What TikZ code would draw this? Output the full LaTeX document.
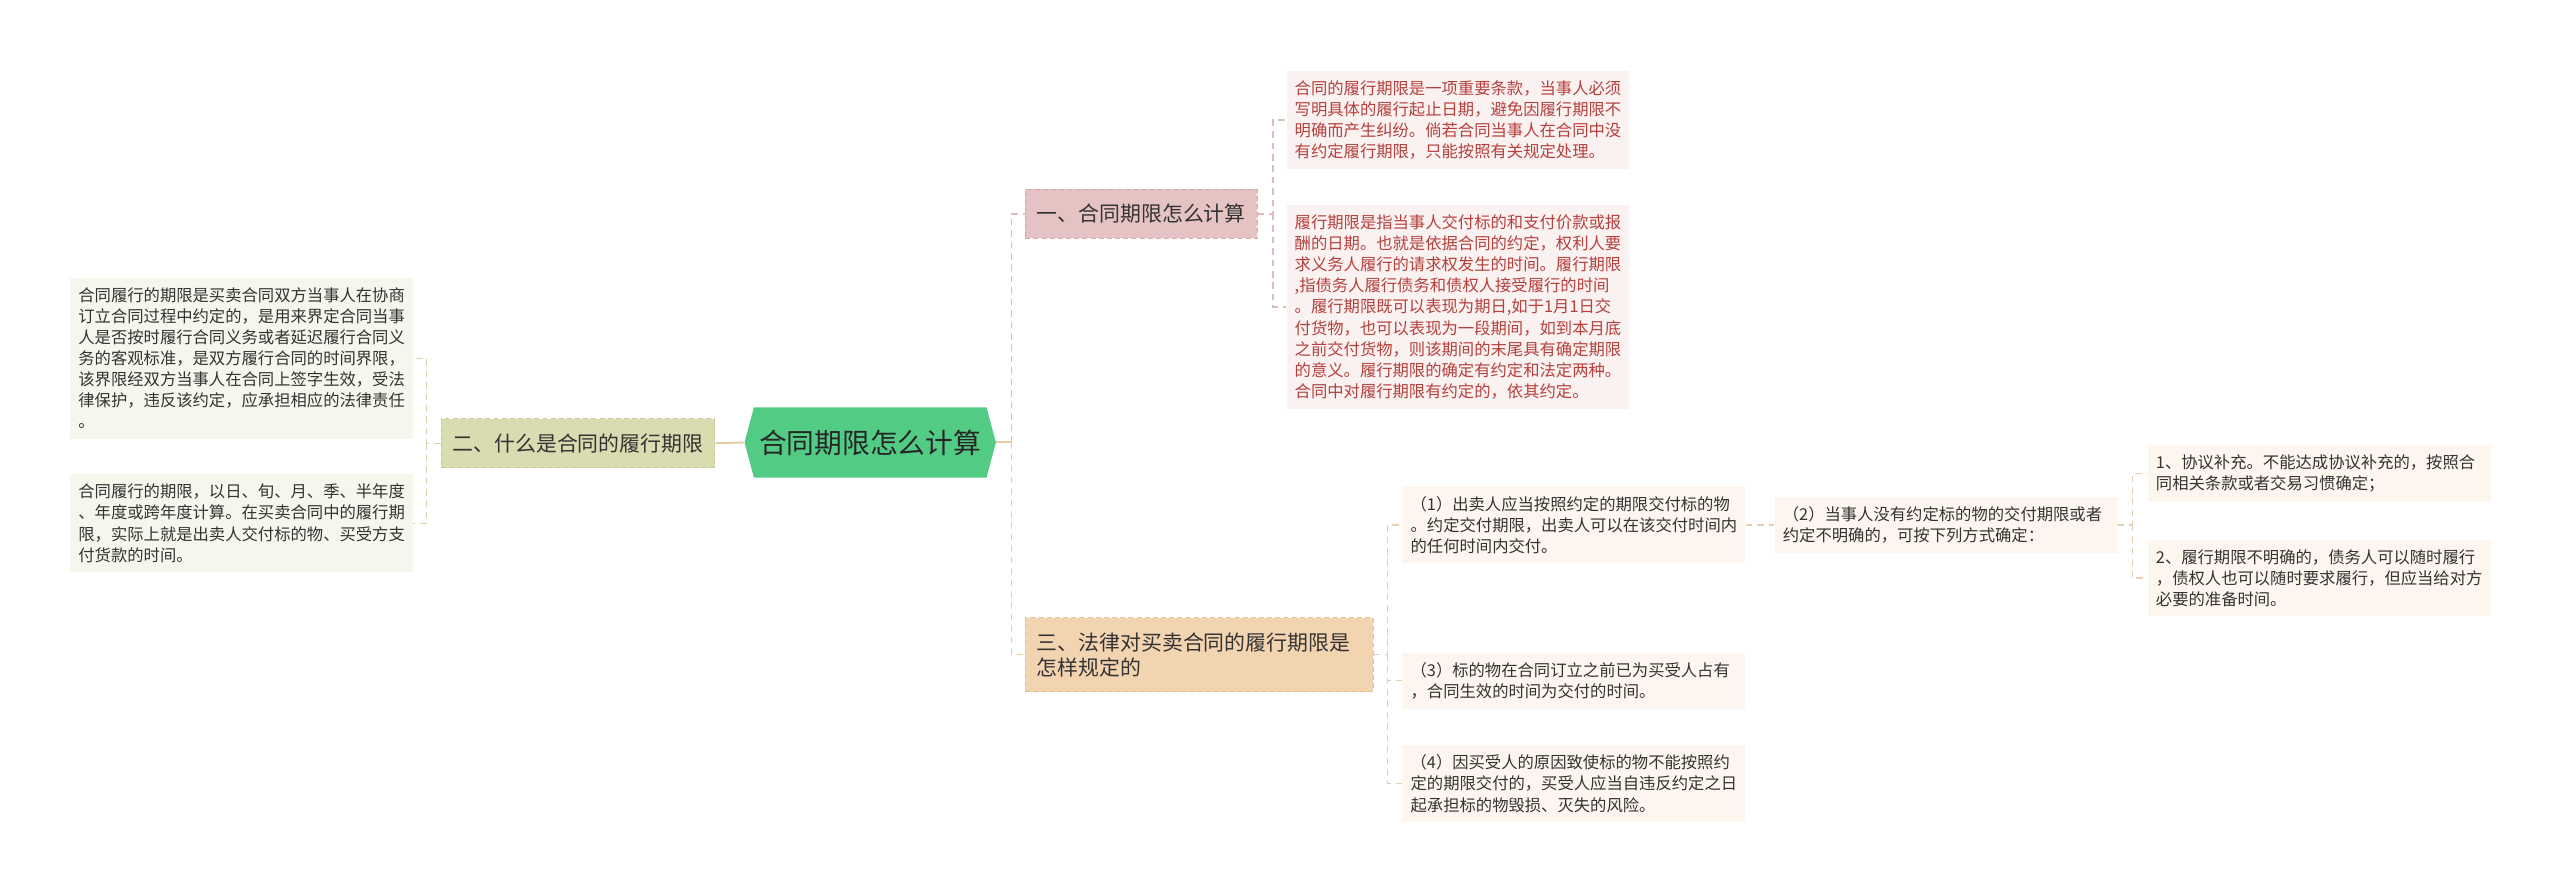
\documentclass[tikz,border=0pt]{standalone}
\usepackage{fontspec}
\setmainfont{Noto Sans CJK SC}
\usetikzlibrary{shapes.symbols}
\definecolor{hexgreen}{HTML}{52CC85}
\definecolor{olivefill}{HTML}{D9DBB0}
\definecolor{oliveline}{HTML}{C9CB98}
\definecolor{pinkfill}{HTML}{E6C3C3}
\definecolor{pinkline}{HTML}{D6A9A9}
\definecolor{peachfill}{HTML}{F3D4B1}
\definecolor{peachline}{HTML}{E6C196}
\definecolor{leafolive}{HTML}{F5F6EC}
\definecolor{leafpink}{HTML}{FAF1F1}
\definecolor{leafpeach}{HTML}{FDF6EE}
\definecolor{redtext}{HTML}{B5413D}
\definecolor{darktext}{HTML}{333333}
\definecolor{tanline}{HTML}{E6CBA5}
\definecolor{conolive}{HTML}{D3D5A8}
\definecolor{conpink}{HTML}{DDBDBD}
\definecolor{conpeach}{HTML}{E8CDAE}
\begin{document}
\begin{tikzpicture}[x=1pt,y=-1pt,
  leaf/.style={text width=200pt, align=left, inner xsep=5pt, inner ysep=6pt,
    font=\fontsize{10}{12.9}\selectfont, text=darktext, anchor=center},
  branch/.style={draw, dash pattern=on 3pt off 2pt, line width=0.7pt, text=darktext,
    font=\fontsize{12.8}{15.3}\selectfont, inner xsep=7pt, inner ysep=9pt, anchor=center},
  conn/.style={dash pattern=on 4pt off 3pt, line width=0.8pt},
  solidconn/.style={line width=1.2pt, draw=tanline}
]
\useasboundingbox (0,0) rectangle (1568,548);

% main
\node[signal, signal to=west and east, signal pointer angle=150, fill=hexgreen,
  minimum width=154pt, minimum height=43pt, inner sep=2pt, text=black!85,
  font=\fontsize{17}{20}\selectfont] (main) at (533,271) {合同期限怎么计算};

% branches
\node[branch, fill=olivefill, draw=oliveline] (n2) at (354,271.5) {二、什么是合同的履行期限};
\node[branch, fill=pinkfill, draw=pinkline] (n1) at (699,131) {一、合同期限怎么计算};
\node[branch, fill=peachfill, draw=peachline, text width=199pt, align=left] (n3) at (734.5,401)
  {三、法律对买卖合同的履行期限是\\怎样规定的};

% left leaves
\node[leaf, fill=leafolive] (la) at (148,219.5) {合同履行的期限是买卖合同双方当事人在协商\\订立合同过程中约定的，是用来界定合同当事\\人是否按时履行合同义务或者延迟履行合同义\\务的客观标准，是双方履行合同的时间界限，\\该界限经双方当事人在合同上签字生效，受法\\律保护，违反该约定，应承担相应的法律责任\\。};
\node[leaf, fill=leafolive] (lb) at (148,320.5) {合同履行的期限，以日、旬、月、季、半年度\\、年度或跨年度计算。在买卖合同中的履行期\\限，实际上就是出卖人交付标的物、买受方支\\付货款的时间。};

% pink leaves
\node[leaf, fill=leafpink, text=redtext] (p1) at (893,73.5) {合同的履行期限是一项重要条款，当事人必须\\写明具体的履行起止日期，避免因履行期限不\\明确而产生纠纷。倘若合同当事人在合同中没\\有约定履行期限，只能按照有关规定处理。};
\node[leaf, fill=leafpink, text=redtext] (p2) at (893,188) {履行期限是指当事人交付标的和支付价款或报\\酬的日期。也就是依据合同的约定，权利人要\\求义务人履行的请求权发生的时间。履行期限\\,指债务人履行债务和债权人接受履行的时间\\。履行期限既可以表现为期日,如于1月1日交\\付货物，也可以表现为一段期间，如到本月底\\之前交付货物，则该期间的末尾具有确定期限\\的意义。履行期限的确定有约定和法定两种。\\合同中对履行期限有约定的，依其约定。};

% peach leaves
\node[leaf, fill=leafpeach] (b1) at (964,321.5) {（1）出卖人应当按照约定的期限交付标的物\\。约定交付期限，出卖人可以在该交付时间内\\的任何时间内交付。};
\node[leaf, fill=leafpeach] (b3) at (964,417) {（3）标的物在合同订立之前已为买受人占有\\，合同生效的时间为交付的时间。};
\node[leaf, fill=leafpeach] (b4) at (964,480) {（4）因买受人的原因致使标的物不能按照约\\定的期限交付的，买受人应当自违反约定之日\\起承担标的物毁损、灭失的风险。};
\node[leaf, fill=leafpeach] (b2) at (1192,321.5) {（2）当事人没有约定标的物的交付期限或者\\约定不明确的，可按下列方式确定：};
\node[leaf, fill=leafpeach] (c1) at (1420.5,290) {1、协议补充。不能达成协议补充的，按照合\\同相关条款或者交易习惯确定；};
\node[leaf, fill=leafpeach] (c2) at (1420.5,354) {2、履行期限不明确的，债务人可以随时履行\\，债权人也可以随时要求履行，但应当给对方\\必要的准备时间。};

% junctions
\coordinate (jL) at (261.3,271.5);
\coordinate (jR) at (619.5,271);
\coordinate (jP) at (779.7,131);
\coordinate (jB) at (850,401);
\coordinate (jC) at (1306,321.5);

% connectors
\draw[solidconn] (main.west) -- (n2.east);
\draw[solidconn] (main.east) -- (jR);
\draw[conn, draw=conolive] (n2.west) -- (jL) |- (la.east);
\draw[conn, draw=conolive] (jL) |- (lb.east);
\draw[conn, draw=conpink] (jR) |- (n1.west);
\draw[conn, draw=conpeach] (jR) |- (n3.west);
\draw[conn, draw=conpink] (n1.east) -- (jP) |- (p1.west);
\draw[conn, draw=conpink] (jP) |- (p2.west);
\draw[conn, draw=conpeach] (n3.east) -- (jB) |- (b1.west);
\draw[conn, draw=conpeach] (jB) |- (b3.west);
\draw[conn, draw=conpeach] (jB) |- (b4.west);
\draw[conn, draw=conpeach] (b1.east) -- (b2.west);
\draw[conn, draw=conpeach] (b2.east) -- (jC) |- (c1.west);
\draw[conn, draw=conpeach] (jC) |- (c2.west);
\end{tikzpicture}
\end{document}
